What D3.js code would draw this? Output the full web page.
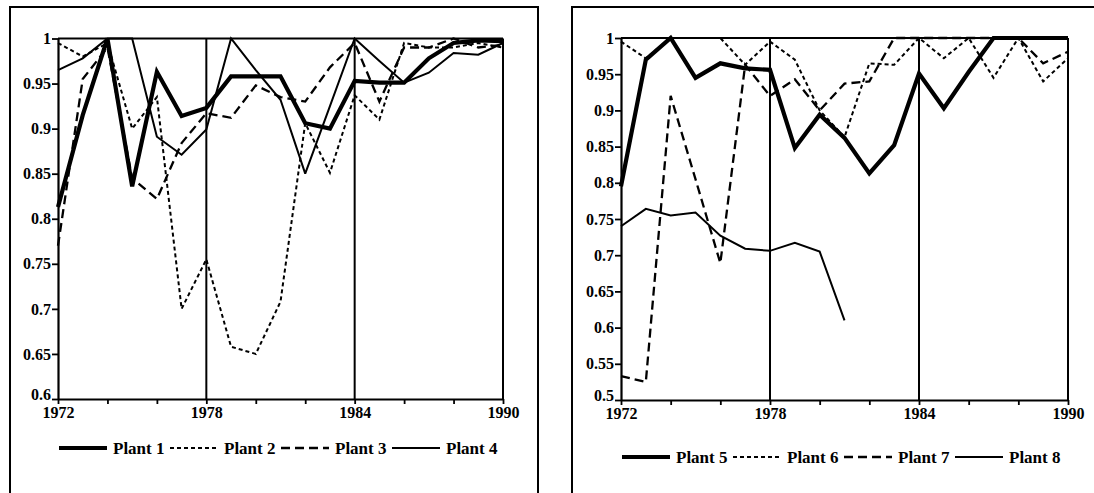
<!DOCTYPE html>
<html><head><meta charset="utf-8">
<script src="https://cdn.jsdelivr.net/npm/d3@7"></script>
<style>
html,body{margin:0;padding:0;background:#fff;}
text{font-family:"Liberation Serif","Times New Roman",serif;font-weight:bold;fill:#000;}
</style></head>
<body><svg id="c" width="1094" height="493"></svg>
<script>
// ---------- data ----------
const years = [1972,1973,1974,1975,1976,1977,1978,1979,1980,1981,1982,1983,1984,1985,1986,1987,1988,1989,1990];
const xTickYears = [1972,1974,1976,1978,1980,1982,1984,1986,1988,1990];
const xTickLabels = ["1972","","","1978","","","1984","","","1990"];
const refYears = [1978,1984];

const leftYTicks = [0.6,0.65,0.7,0.75,0.8,0.85,0.9,0.95,1];
const leftYLabels = ["0.6","0.65","0.7","0.75","0.8","0.85","0.9","0.95","1"];
const rightYTicks = [0.5,0.55,0.6,0.65,0.7,0.75,0.8,0.85,0.9,0.95,1];
const rightYLabels = ["0.5","0.55","0.6","0.65","0.7","0.75","0.8","0.85","0.9","0.95","1"];

const plant1 = [0.813,0.915,1.0,0.836,0.963,0.914,0.923,0.958,0.958,0.958,0.906,0.900,0.953,0.951,0.951,0.978,0.995,0.998,0.997];
const plant2 = [0.995,0.980,0.995,0.900,0.935,0.700,0.755,0.658,0.650,0.708,0.906,0.851,0.937,0.910,0.995,0.990,0.990,0.995,0.990];
const plant3 = [0.770,0.955,0.990,0.845,0.822,0.884,0.917,0.912,0.948,0.935,0.930,0.968,0.995,0.930,0.990,0.990,1.000,0.990,0.993];
const plant4 = [0.965,0.978,1.0,1.0,0.891,0.871,0.899,1.0,0.965,0.932,0.850,0.925,1.0,0.975,0.951,0.962,0.984,0.982,0.995];

const plant5 = [0.795,0.970,1.0,0.945,0.965,0.958,0.956,0.848,0.894,0.862,0.813,0.852,0.951,0.903,0.953,1.0,1.0,1.0,1.0];
const plant6 = [0.995,0.972,1.0,1.0,1.0,0.963,0.995,0.970,0.900,0.863,0.965,0.963,1.0,0.972,1.0,0.945,1.0,0.940,0.972];
const plant7 = [0.533,0.525,0.920,0.805,0.689,0.963,0.920,0.943,0.900,0.937,0.940,1.0,1.0,1.0,1.0,1.0,1.0,0.965,0.981];
const plant8 = [0.740,0.764,0.755,0.759,0.727,0.709,0.706,0.717,0.705,0.610,null,null,null,null,null,null,null,null,null];

const leftNames = ["Plant 1","Plant 2","Plant 3","Plant 4"];
const rightNames = ["Plant 5","Plant 6","Plant 7","Plant 8"];

// ---------- styles ----------
const styles = [
  {w:4.2, dash:null},
  {w:2, dash:"4,3"},
  {w:2.3, dash:"9,5"},
  {w:2, dash:null}
];

const svg = d3.select("#c");
svg.append("rect").attr("width",1094).attr("height",493).attr("fill","#fff");

const panels = [
  {box:[10,7,528,520], xr:[58,503], yr:[399,38.5], dom:[0.6,1], yt:leftYTicks, yl:leftYLabels,
   series:[plant1,plant2,plant3,plant4], names:leftNames, legY:448, legX:113},
  {box:[572,7,560,520], xr:[621,1068], yr:[400,38], dom:[0.5,1], yt:rightYTicks, yl:rightYLabels,
   series:[plant5,plant6,plant7,plant8], names:rightNames, legY:457, legX:676}
];

panels.forEach(p=>{
  const g = svg.append("g");
  g.append("rect").attr("x",p.box[0]).attr("y",p.box[1]).attr("width",p.box[2]).attr("height",p.box[3])
    .attr("fill","none").attr("stroke","#000").attr("stroke-width",2);

  const x = d3.scaleLinear().domain([1972,1990]).range(p.xr);
  const y = d3.scaleLinear().domain(p.dom).range(p.yr);

  // frame: top and right, reference verticals
  g.append("line").attr("x1",x(1972)).attr("x2",x(1990)).attr("y1",y(1)).attr("y2",y(1))
    .attr("stroke","#000").attr("stroke-width",2.2);
  g.append("line").attr("x1",x(1990)).attr("x2",x(1990)).attr("y1",y(1)).attr("y2",y(p.dom[0]))
    .attr("stroke","#000").attr("stroke-width",2);
  refYears.forEach(r=>{
    g.append("line").attr("x1",x(r)).attr("x2",x(r)).attr("y1",y(1)).attr("y2",y(p.dom[0]))
      .attr("stroke","#000").attr("stroke-width",2);
  });

  // axes
  const ya = d3.axisLeft(y).tickValues(p.yt).tickSize(6).tickSizeOuter(0).tickPadding(1)
    .tickFormat((d,i)=>p.yl[i]);
  const yg = g.append("g").attr("transform",`translate(${x(1972)},0)`).call(ya);
  const xa = d3.axisBottom(x).tickValues(xTickYears).tickSize(5).tickSizeOuter(0).tickPadding(3)
    .tickFormat((d,i)=>xTickLabels[i]);
  const xg = g.append("g").attr("transform",`translate(0,${y(p.dom[0])})`).call(xa);
  [yg,xg].forEach(a=>{
    a.select(".domain").attr("stroke","#000").attr("stroke-width",2.2);
    a.selectAll(".tick line").attr("stroke","#000").attr("stroke-width",1.8);
    a.selectAll("text").style("font-family","'Liberation Serif',serif").style("font-weight","bold")
      .style("font-size","16px").attr("fill","#000");
  });
  // lowest y label sits slightly raised, as in the reference
  yg.selectAll(".tick text").filter((d,i)=>i===0).attr("dy","0.05em");

  // series
  const line = d3.line().defined(d=>d[1]!=null).x(d=>x(d[0])).y(d=>y(d[1]));
  p.series.forEach((s,i)=>{
    const st = styles[i];
    g.append("path").datum(years.map((yr,k)=>[yr,s[k]]))
      .attr("d",line).attr("fill","none").attr("stroke","#000")
      .attr("stroke-width",st.w).attr("stroke-dasharray",st.dash)
      .attr("stroke-linejoin","miter").attr("stroke-miterlimit",3);
  });

  // legend
  p.names.forEach((n,i)=>{
    const st = styles[i];
    const tx = p.legX + i*111;
    g.append("line").attr("x1",tx-54).attr("x2",tx-6).attr("y1",p.legY).attr("y2",p.legY)
      .attr("stroke","#000").attr("stroke-width",st.w).attr("stroke-dasharray",st.dash);
    g.append("text").attr("x",tx).attr("y",p.legY+6).style("font-size","17px").text(n);
  });
});
</script></body></html>
